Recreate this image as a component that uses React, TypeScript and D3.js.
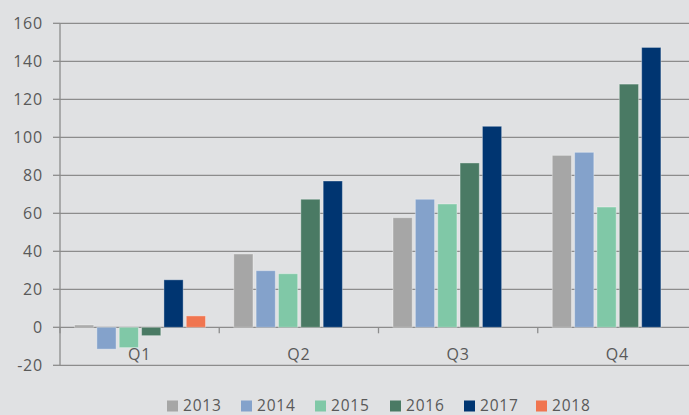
import React from "react";
import * as d3 from "d3";

const quarters = ["Q1", "Q2", "Q3", "Q4"];
const years = ["2013", "2014", "2015", "2016", "2017", "2018"];
const v2013 = [1.2, 38.6, 57.7, 90.5];
const v2014 = [-11.5, 29.8, 67.4, 92.1];
const v2015 = [-10.7, 28.2, 64.9, 63.3];
const v2016 = [-4.4, 67.4, 86.5, 128];
const v2017 = [25, 77, 105.8, 147.3];
const v2018: (number | null)[] = [6, null, null, null];
const yTicks = [-20, 0, 20, 40, 60, 80, 100, 120, 140, 160];
const colors = ["#a6a6a6", "#84a2cb", "#80c8a7", "#4a7a64", "#003571", "#f07550"];

const series = [v2013, v2014, v2015, v2016, v2017, v2018];

export default function App() {
  const W = 689, H = 415;
  const left = 60, right = 697;
  const y = d3.scaleLinear().domain([-20, 160]).range([365.3, 23.3]);
  const x0 = d3.scaleBand().domain(quarters).range([left, right]).padding(0);
  const x1 = d3.scaleBand().domain(years).range([14.5, 145.5]).paddingInner(0.14).paddingOuter(0);
  const font = "'Open Sans', 'DejaVu Sans', sans-serif";
  const textColor = "#595959";
  const gridColor = "#8c8c8c";
  const legendX = [167, 241, 315, 390, 464, 536];

  return (
    <div style={{ position: "fixed", left: 0, top: 0, width: W, height: H }}>
      <svg width={W} height={H} style={{ display: "block", background: "#e0e1e3" }}>
        <rect x={0} y={0} width={W} height={H} fill="#e0e1e3" />
        {yTicks.map((t) => (
          <g key={t}>
            <line x1={left} x2={W} y1={y(t)} y2={y(t)} stroke={gridColor} strokeWidth={1.3} />
            <line x1={53} x2={left} y1={y(t)} y2={y(t)} stroke={gridColor} strokeWidth={1.3} />
            <text x={43} y={y(t)} dy="0.36em" textAnchor="end" fontFamily={font} fontSize={16} letterSpacing={0.8} fill={textColor}>
              {t}
            </text>
          </g>
        ))}
        <line x1={left} x2={left} y1={y(160)} y2={y(-20)} stroke={gridColor} strokeWidth={1.3} />
        {quarters.map((q) => (
          <line key={q} x1={x0(q)!} x2={x0(q)!} y1={y(0)} y2={y(0) + 6} stroke={gridColor} strokeWidth={1.3} />
        ))}
        {quarters.map((q, qi) => (
          <g key={q}>
            {series.map((s, si) => {
              const v = s[qi];
              if (v === null || v === undefined) return null;
              const xx = x0(q)! + x1(years[si])!;
              const y0 = y(Math.max(0, v));
              const h = Math.abs(y(v) - y(0));
              return (
                <rect
                  key={si}
                  x={xx}
                  y={y0}
                  width={x1.bandwidth()}
                  height={h}
                  fill={colors[si]}
                  stroke="#ffffff"
                  strokeOpacity={0.35}
                  strokeWidth={1}
                />
              );
            })}
            <text
              x={x0(q)! + x0.bandwidth() / 2}
              y={360}
              textAnchor="middle"
              fontFamily={font}
              fontSize={16}
              letterSpacing={0.8}
              fill={textColor}
            >
              {q}
            </text>
          </g>
        ))}
        {years.map((yr, i) => (
          <g key={yr}>
            <rect x={legendX[i]} y={400.5} width={11} height={11} fill={colors[i]} />
            <text x={legendX[i] + 16} y={411} fontFamily={font} fontSize={15.5} letterSpacing={0.8} fill={textColor}>
              {yr}
            </text>
          </g>
        ))}
      </svg>
    </div>
  );
}
